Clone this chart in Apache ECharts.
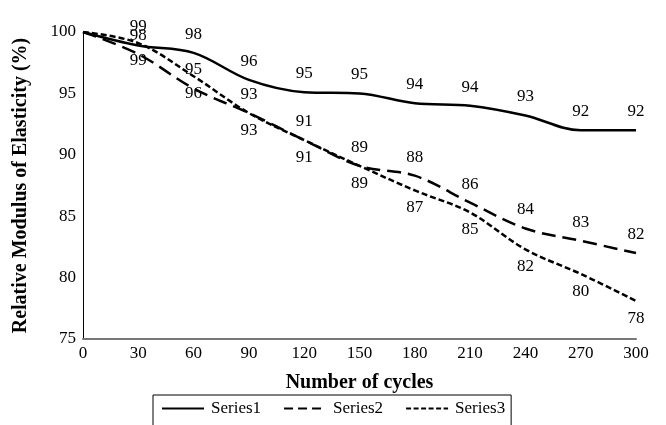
<!DOCTYPE html>
<html>
<head>
<meta charset="utf-8">
<script src="https://cdn.jsdelivr.net/npm/echarts@6/dist/echarts.min.js"></script>
<style>html,body{margin:0;padding:0;background:#fff}#c{width:666px;height:425px}</style>
</head>
<body>
<div id="c"></div>
<script>
var cycles = [0, 30, 60, 90, 120, 150, 180, 210, 240, 270, 300];
var series1 = [100, 98.9, 98.3, 96.1, 95.1, 95.0, 94.2, 94.0, 93.2, 92.0, 92.0];
var series2 = [100, 98.2, 95.4, 93.4, 91.2, 89.1, 88.3, 86.1, 84.0, 83.0, 82.0];
var series3 = [100, 99.1, 96.4, 93.4, 91.2, 89.1, 87.1, 85.3, 82.3, 80.3, 78.1];
var seriesNames = ['Series1', 'Series2', 'Series3'];

function pairs(v) {
  return cycles.map(function (c, i) {
    var item = { value: [c, v[i]] };
    if (i === 0) item.label = { show: false };
    return item;
  });
}
var FONT = 'Liberation Serif';
var chart = echarts.init(document.getElementById('c'));
function mk(name, vals, dash, pos, dist) {
  return {
    name: name, type: 'line', smooth: 0.35, symbol: 'circle', symbolSize: 0, showSymbol: true,
    data: pairs(vals),
    lineStyle: { color: '#000', width: 2.5, type: dash },
    itemStyle: { color: '#000' },
    label: {
      show: true, position: pos, distance: dist, color: '#000', fontFamily: FONT, fontSize: 17,
      formatter: function (p) { return String(Math.round(p.value[1])); }
    },
    z: 3
  };
}
chart.setOption({
  animation: false,
  backgroundColor: '#fff',
  grid: { left: 83, right: 30, top: 32, bottom: 86, containLabel: false },
  xAxis: {
    type: 'value', min: 0, max: 300, interval: 30,
    name: 'Number of cycles', nameLocation: 'middle', nameGap: 34,
    nameTextStyle: { fontFamily: FONT, fontSize: 20, fontWeight: 'bold', color: '#000' },
    axisLine: { show: true, lineStyle: { color: '#777', width: 2 } },
    axisTick: { show: false },
    splitLine: { show: false },
    axisLabel: { fontFamily: FONT, fontSize: 17, color: '#000', margin: 6 }
  },
  yAxis: {
    type: 'value', min: 75, max: 100, interval: 5,
    name: 'Relative Modulus of Elasticity (%)', nameLocation: 'middle', nameGap: 52, nameRotate: 90,
    nameTextStyle: { fontFamily: FONT, fontSize: 20, fontWeight: 'bold', color: '#000' },
    axisLine: { show: true, lineStyle: { color: '#000', width: 1 } },
    axisTick: { show: false },
    splitLine: { show: false },
    axisLabel: { fontFamily: FONT, fontSize: 17, color: '#000', margin: 7 }
  },
  legend: {
    data: [
      { name: seriesNames[0] },
      { name: seriesNames[1], lineStyle: { type: [9, 5] } },
      { name: seriesNames[2], lineStyle: { type: [5, 2.5] } }
    ],
    top: 395, left: 153,
    borderColor: '#000', borderWidth: 1, borderRadius: 0,
    padding: [5, 6, 14, 8], itemGap: 22, itemWidth: 42, itemHeight: 10,
    itemStyle: { opacity: 0 },
    textStyle: { fontFamily: FONT, fontSize: 17, color: '#000', padding: [0, 0, 0, 2] }
  },
  series: [
    mk(seriesNames[0], series1, 'solid', 'top', 10),
    mk(seriesNames[1], series2, [14, 7], 'top', 10),
    mk(seriesNames[2], series3, [6, 3], 'bottom', 9)
  ]
});
</script>
</body>
</html>
